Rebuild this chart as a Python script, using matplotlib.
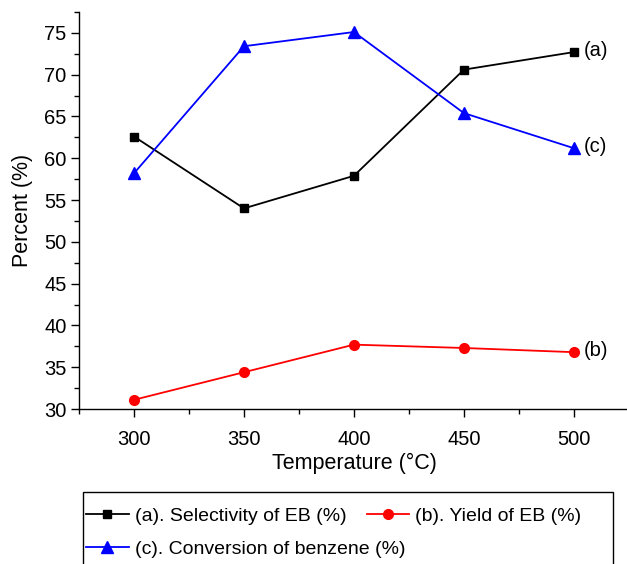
import numpy as np
import matplotlib
matplotlib.use("Agg")
import matplotlib.pyplot as plt
from matplotlib.patches import Rectangle
from matplotlib.ticker import MultipleLocator

# data
# ----------
temperature = [300, 350, 400, 450, 500]
selectivity_eb = [62.6, 54.0, 57.9, 70.6, 72.7]
yield_eb = [31.1, 34.4, 37.7, 37.3, 36.8]
conversion_benzene = [58.2, 73.4, 75.1, 65.4, 61.2]

series_labels = ["(a). Selectivity of EB (%)",
                 "(b). Yield of EB (%)",
                 "(c). Conversion of benzene (%)"]
end_tags = ["(a)", "(b)", "(c)"]

# plot settings
# ----------
plt.rcParams["font.family"] = ["Liberation Sans", "DejaVu Sans"]

W, H = 627, 564
fig = plt.figure(figsize=(W / 100, H / 100), dpi=100)
ax = fig.add_axes([0.126, 0.2748, 0.877, 0.704])

ax.spines["top"].set_visible(False)
ax.spines["right"].set_visible(False)
ax.spines["left"].set_linewidth(1.0)
ax.spines["bottom"].set_linewidth(1.0)

ax.set_xlim(275, 525)
ax.set_ylim(30, 77.5)
ax.xaxis.set_major_locator(MultipleLocator(50))
ax.xaxis.set_minor_locator(MultipleLocator(25))
ax.yaxis.set_major_locator(MultipleLocator(5))
ax.yaxis.set_minor_locator(MultipleLocator(2.5))
ax.tick_params(which="major", direction="out", length=6, width=1.0,
               labelsize=14.5, colors="black")
ax.tick_params(which="minor", direction="out", length=3.5, width=1.0)
ax.tick_params(axis="x", pad=9)
ax.tick_params(axis="y", pad=3)

ax.set_xlabel("Temperature (\u00b0C)", fontsize=15.5, labelpad=3)
ax.set_ylabel("Percent (%)", fontsize=15.5, labelpad=8)

# lines
# ----------
l_a, = ax.plot(temperature, selectivity_eb, color="black", lw=1.3,
               marker="s", ms=6, label=series_labels[0], clip_on=False)
l_b, = ax.plot(temperature, yield_eb, color="red", lw=1.3,
               marker="o", ms=7, label=series_labels[1], clip_on=False)
l_c, = ax.plot(temperature, conversion_benzene, color="blue", lw=1.3,
               marker="^", ms=8, label=series_labels[2], clip_on=False)

# tags at the end of each line
for vals, tag in zip([selectivity_eb, yield_eb, conversion_benzene], end_tags):
    ax.annotate(tag, xy=(temperature[-1], vals[-1]), xytext=(7, 1),
                textcoords="offset points", va="center", ha="left",
                fontsize=14.5)

# legend: row 1 holds (a) and (b), row 2 holds (c), one shared frame
leg_kw = dict(loc="center left", fontsize=14, frameon=False,
              handlelength=2.2, handletextpad=0.3, borderpad=0,
              borderaxespad=0)
leg1 = fig.legend([l_a, l_b], [series_labels[0], series_labels[1]], ncol=2,
                  columnspacing=1.05,
                  bbox_to_anchor=(86 / W, 1 - 516 / H), **leg_kw)
leg2 = fig.legend([l_c], [series_labels[2]],
                  bbox_to_anchor=(86 / W, 1 - 549 / H), **leg_kw)
frame = Rectangle((83 / W, -0.05), (613 - 83) / W, (1 - 492 / H) + 0.05,
                  transform=fig.transFigure, fill=False, edgecolor="black",
                  lw=1.0, clip_on=False)
fig.patches.append(frame)

# display
# ----------
fig.savefig("out.png", dpi=100)
